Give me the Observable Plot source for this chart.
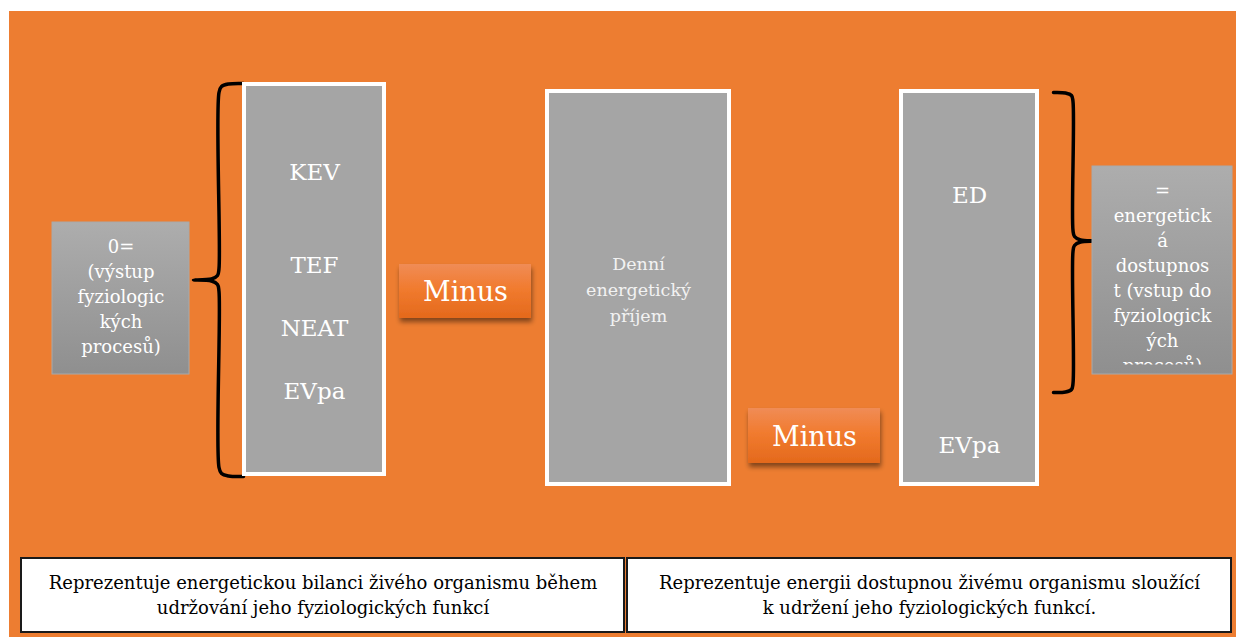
<!DOCTYPE html>
<html><head><meta charset="utf-8">
<script src="https://cdn.jsdelivr.net/npm/d3@7"></script>
<script src="https://cdn.jsdelivr.net/npm/@observablehq/plot@0.6"></script>
<style>html,body{margin:0;padding:0;background:#fff}svg{display:block}</style>
</head><body><div id="chart"></div>
<script>
// ---------- text content ----------
const leftBoxLines = ["0=", "(výstup", "fyziologic", "kých", "procesů)"];
const expenditureTerms = ["KEV", "TEF", "NEAT", "EVpa"];
const intakeLines = ["Denní", "energetický", "příjem"];
const availabilityTerms = ["ED", "EVpa"];
const resultLines = ["=", "energetick", "á", "dostupnos", "t (vstup do", "fyziologick", "ých", "procesů)"];
const operatorLabels = ["Minus", "Minus"];
const captionLeft = ["Reprezentuje energetickou bilanci živého organismu během", "udržování jeho fyziologických funkcí"];
const captionRight = ["Reprezentuje energii dostupnou živému organismu sloužící", "k udržení jeho fyziologických funkcí."];

// ---------- diagram layout (diagram units) ----------
const W = 1236, H = 637;
const backgroundArea = [{x1: 9, x2: 1236, y1: 11, y2: 637}];
const panelBoxes = [{x1: 244, x2: 384, y1: 84, y2: 474}, {x1: 547, x2: 729, y1: 91, y2: 484}, {x1: 901, x2: 1037, y1: 91, y2: 484}];
const sideBoxes = [{x1: 52, x2: 189, y1: 222, y2: 374}, {x1: 1092, x2: 1232, y1: 166, y2: 374}];
const operatorBoxes = [{x1: 399, x2: 531, y1: 264, y2: 318}, {x1: 748, x2: 880, y1: 408, y2: 463}];
const captionBoxes = [{x1: 21, x2: 624, y1: 558, y2: 632}, {x1: 627, x2: 1231, y1: 558, y2: 632}];
const expenditureY = [172, 265, 328, 391];
const availabilityY = [195, 445];
const leftBrace = [[243,83],[228,83.5],[221,86],[218.5,92],[218.5,268],[217,275],[211,278.5],[193,279.5],[211,280.5],[217,284],[218.5,291],[218.5,467],[221,473],[228,475.5],[243,476]];
const rightBrace = [[1053,92],[1065,92.5],[1071,95],[1072.5,101],[1072.5,230],[1074,236],[1080,239.5],[1093,240.5],[1080,241.5],[1074,245],[1072.5,251],[1072.5,383],[1071,389],[1065,391.5],[1053,392]];

const cx = b => (b.x1 + b.x2) / 2;
const stack = (lines, x, yTop, step) => lines.map((t, i) => ({t, x, y: yTop + i * step}));

const serif = "DejaVu Serif";
const leftText = stack(leftBoxLines, cx(sideBoxes[0]), 247, 25);
const expText = expenditureTerms.map((t, i) => ({t, x: cx(panelBoxes[0]), y: expenditureY[i]}));
const intakeText = stack(intakeLines, cx(panelBoxes[1]), 264, 26);
const availText = availabilityTerms.map((t, i) => ({t, x: cx(panelBoxes[2]), y: availabilityY[i]}));
const resultText = stack(resultLines, cx(sideBoxes[1]), 191, 25);
const opText = operatorLabels.map((t, i) => ({t, x: cx(operatorBoxes[i]), y: (operatorBoxes[i].y1 + operatorBoxes[i].y2) / 2 + 1}));
const capText = [
  ...stack(captionLeft, cx(captionBoxes[0]), 583, 25),
  ...stack(captionRight, cx(captionBoxes[1]), 583, 25)
];

const chart = Plot.plot({
  width: W, height: H,
  margin: 0,
  x: {domain: [0, W], range: [0, W], axis: null},
  y: {domain: [0, H], range: [0, H], axis: null},
  style: {background: "#fff"},
  marks: [
    Plot.rect(backgroundArea, {x1: "x1", x2: "x2", y1: "y1", y2: "y2", fill: "#ed7d31"}),            // rect 0
    Plot.line(leftBrace, {x: d => d[0], y: d => d[1], stroke: "#000", strokeWidth: 3.5, strokeLinejoin: "round", curve: "catmull-rom"}),
    Plot.line(rightBrace, {x: d => d[0], y: d => d[1], stroke: "#000", strokeWidth: 3.5, strokeLinejoin: "round", curve: "catmull-rom"}),
    Plot.rect(panelBoxes, {x1: "x1", x2: "x2", y1: "y1", y2: "y2", fill: "#a5a5a5", stroke: "#fff", strokeWidth: 4}), // rect 1
    Plot.rect(sideBoxes, {x1: "x1", x2: "x2", y1: "y1", y2: "y2", fill: "url(#grayGrad)", stroke: "#a9a9a9", strokeWidth: 1}), // rect 2
    Plot.rect(operatorBoxes, {x1: "x1", x2: "x2", y1: "y1", y2: "y2", fill: "url(#orangeGrad)"}),     // rect 3
    Plot.rect(captionBoxes, {x1: "x1", x2: "x2", y1: "y1", y2: "y2", fill: "#fff", stroke: "#1a1a1a", strokeWidth: 2}), // rect 4
    Plot.text(leftText, {x: "x", y: "y", text: "t", fill: "#fff", fontFamily: serif, fontSize: 18}),        // text 0
    Plot.text(expText, {x: "x", y: "y", text: "t", fill: "#fff", fontFamily: serif, fontSize: 23}),         // text 1
    Plot.text(intakeText, {x: "x", y: "y", text: "t", fill: "#f2f2f2", fontFamily: serif, fontSize: 17.5}),  // text 2
    Plot.text(availText, {x: "x", y: "y", text: "t", fill: "#fff", fontFamily: serif, fontSize: 23}),       // text 3
    Plot.text(resultText, {x: "x", y: "y", text: "t", fill: "#fff", fontFamily: serif, fontSize: 18}),      // text 4
    Plot.text(opText, {x: "x", y: "y", text: "t", fill: "#fff", fontFamily: serif, fontSize: 27}),          // text 5
    Plot.text(capText, {x: "x", y: "y", text: "t", fill: "#000", fontFamily: serif, fontSize: 18})          // text 6
  ]
});

// gradients, shadow and clipping
const svg = d3.select(chart);
const defs = svg.insert("defs", ":first-child");
const gg = defs.append("linearGradient").attr("id", "grayGrad").attr("x1", 0).attr("y1", 0).attr("x2", 0).attr("y2", 1);
gg.append("stop").attr("offset", "0%").attr("stop-color", "#adadad");
gg.append("stop").attr("offset", "100%").attr("stop-color", "#8f8f8f");
const og = defs.append("linearGradient").attr("id", "orangeGrad").attr("x1", 0).attr("y1", 0).attr("x2", 0).attr("y2", 1);
og.append("stop").attr("offset", "0%").attr("stop-color", "#f08c56");
og.append("stop").attr("offset", "45%").attr("stop-color", "#f17b2f");
og.append("stop").attr("offset", "100%").attr("stop-color", "#e4691c");
const f = defs.append("filter").attr("id", "shadow").attr("x", "-20%").attr("y", "-30%").attr("width", "140%").attr("height", "170%");
f.append("feDropShadow").attr("dx", 1).attr("dy", 4).attr("stdDeviation", 2.5).attr("flood-color", "#000").attr("flood-opacity", 0.45);

const rectGroups = svg.selectAll('g[aria-label="rect"]').nodes();
const textGroups = svg.selectAll('g[aria-label="text"]').nodes();
d3.select(rectGroups[3]).attr("filter", "url(#shadow)");

const sx = chart.scale("x"), sy = chart.scale("y");
const rb = sideBoxes[1];
defs.append("clipPath").attr("id", "resultClip").append("rect")
  .attr("x", sx.apply(rb.x1)).attr("y", sy.apply(rb.y1))
  .attr("width", sx.apply(rb.x2) - sx.apply(rb.x1)).attr("height", sy.apply(364) - sy.apply(rb.y1));
d3.select(textGroups[4]).attr("clip-path", "url(#resultClip)");

document.getElementById("chart").appendChild(chart);
</script>
</body></html>
